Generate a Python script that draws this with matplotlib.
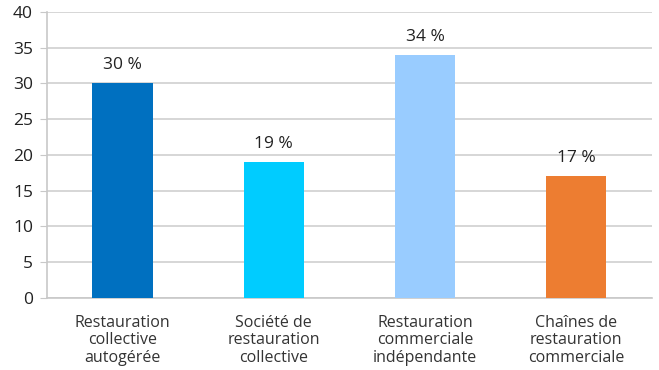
import matplotlib
matplotlib.use("Agg")
import matplotlib.pyplot as plt
import numpy as np

categories = ["Restauration\ncollective\nautogérée",
              "Société de\nrestauration\ncollective",
              "Restauration\ncommerciale\nindépendante",
              "Chaînes de\nrestauration\ncommerciale"]
values = [30, 19, 34, 17]
colors = ["#0070C0", "#00CCFF", "#99CCFF", "#ED7D31"]

plt.rcParams['font.family'] = ['Open Sans', 'DejaVu Sans']

fig = plt.figure(figsize=(6.59, 3.70), dpi=100)
ax = fig.add_axes([0.0713, 0.1946, 0.9177, 0.773])

x = np.arange(len(categories))
ax.bar(x, values, width=0.4, color=colors, zorder=3)

for xi, v in zip(x, values):
    ax.text(xi, v + 1.4, f"{v} %", ha='center', va='bottom', fontsize=12.5, color='#222222')

ax.set_xlim(-0.5, len(categories) - 0.5)
ax.set_ylim(0, 40)
ax.set_yticks(range(0, 41, 5))
ax.set_xticks(x)
ax.set_xticklabels(categories, fontsize=11.5, color='#333333', linespacing=1.12)
ax.tick_params(axis='x', length=0, pad=12)
ax.tick_params(axis='y', length=5, color='#C8C8C8', labelsize=12.5, labelcolor='#222222', pad=5)

ax.grid(axis='y', color='#D0D0D0', linewidth=1.2, zorder=0)
for s in ['top', 'right']:
    ax.spines[s].set_visible(False)
ax.spines['left'].set_color('#C8C8C8')
ax.spines['bottom'].set_color('#C8C8C8')
ax.spines['left'].set_linewidth(1.2)
ax.spines['bottom'].set_linewidth(1.2)

fig.savefig("out.png", dpi=100)
